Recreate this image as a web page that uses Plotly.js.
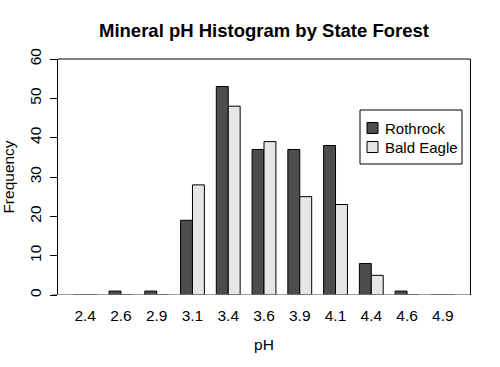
<!DOCTYPE html>
<html>
<head>
<meta charset="utf-8">
<script src="https://cdn.plot.ly/plotly-3.0.1.min.js"></script>
<style>html,body{margin:0;padding:0;background:#fff;}#chart{width:500px;height:367px;}</style>
</head>
<body>
<div id="chart"></div>
<script>
var categories = ["2.4","2.6","2.9","3.1","3.4","3.6","3.9","4.1","4.4","4.6","4.9"];
var rothrock   = [0, 1, 1, 19, 53, 37, 37, 38, 8, 1, 0];
var baldEagle  = [0, 0, 0, 28, 48, 39, 25, 23, 5, 0, 0];
var seriesNames = ["Rothrock", "Bald Eagle"];
var seriesColors = ["#4d4d4d", "#e6e6e6"];
var yTicks = [0, 10, 20, 30, 40, 50, 60];

var fontFam = "Liberation Sans, Arial, sans-serif";
var traces = [
  {type:"bar", name:seriesNames[0], x:categories, y:rothrock,
   marker:{color:seriesColors[0], line:{color:"#000", width:1}}},
  {type:"bar", name:seriesNames[1], x:categories, y:baldEagle,
   marker:{color:seriesColors[1], line:{color:"#000", width:1}}}
];

// manual legend (R-style) in paper coordinates; plot area 412 x 236 px
function px(x){ return (x - 58) / 412; }
function py(y){ return (295 - y) / 236; }
var shapes = [
  {type:"line", xref:"paper", yref:"paper", x0:0, x1:1, y0:1, y1:1, line:{color:"#000", width:1}},
  {type:"line", xref:"paper", yref:"y", x0:-6/412, x1:1, y0:0, y1:0, line:{color:"#808080", width:1.5}},
  {type:"rect", xref:"paper", yref:"paper", x0:px(360), x1:px(462), y0:py(164), y1:py(110),
   line:{color:"#000", width:1}, fillcolor:"#fff"}
];
var annotations = [];
var rowY = [128, 147];
for (var i = 0; i < seriesNames.length; i++) {
  shapes.push({type:"rect", xref:"paper", yref:"paper", x0:px(367), x1:px(378),
    y0:py(rowY[i] + 5.5), y1:py(rowY[i] - 5.5), line:{color:"#000", width:1}, fillcolor:seriesColors[i]});
  annotations.push({xref:"paper", yref:"paper", x:px(383), y:py(rowY[i]), xanchor:"left", yanchor:"middle",
    text:seriesNames[i], showarrow:false, font:{size:15, family:fontFam, color:"#000"}});
}

var layout = {
  width:500, height:367,
  margin:{l:58, r:30, t:59, b:72},
  paper_bgcolor:"#fff", plot_bgcolor:"#fff",
  font:{family:fontFam, size:15.5, color:"#000"},
  title:{text:"<b>Mineral pH Histogram by State Forest</b>", font:{size:18.5, family:fontFam, color:"#000"},
         x:0.528, xanchor:"center", y:0.918, yanchor:"middle"},
  barmode:"group", bargap:1/3, bargroupgap:0,
  showlegend:false,
  xaxis:{type:"category", range:[-0.76, 10.76], showgrid:false, zeroline:false, showline:false,
         ticks:"", tickfont:{size:15.5}, ticklabelstandoff:9,
         title:{text:"pH", font:{size:15.5}, standoff:16}, fixedrange:true},
  yaxis:{range:[0, 60], tickvals:yTicks, ticktext:yTicks.map(String), showgrid:false, zeroline:false,
         showline:true, mirror:true, linecolor:"#000", linewidth:1,
         ticks:"outside", ticklen:7, tickcolor:"#000", tickangle:-90, tickfont:{size:15.5},
         ticklabelstandoff:3,
         title:{text:"Frequency", font:{size:15.5}, standoff:10}, fixedrange:true},
  shapes:shapes,
  annotations:annotations
};
Plotly.newPlot("chart", traces, layout, {displayModeBar:false, staticPlot:true});
</script>
</body>
</html>
